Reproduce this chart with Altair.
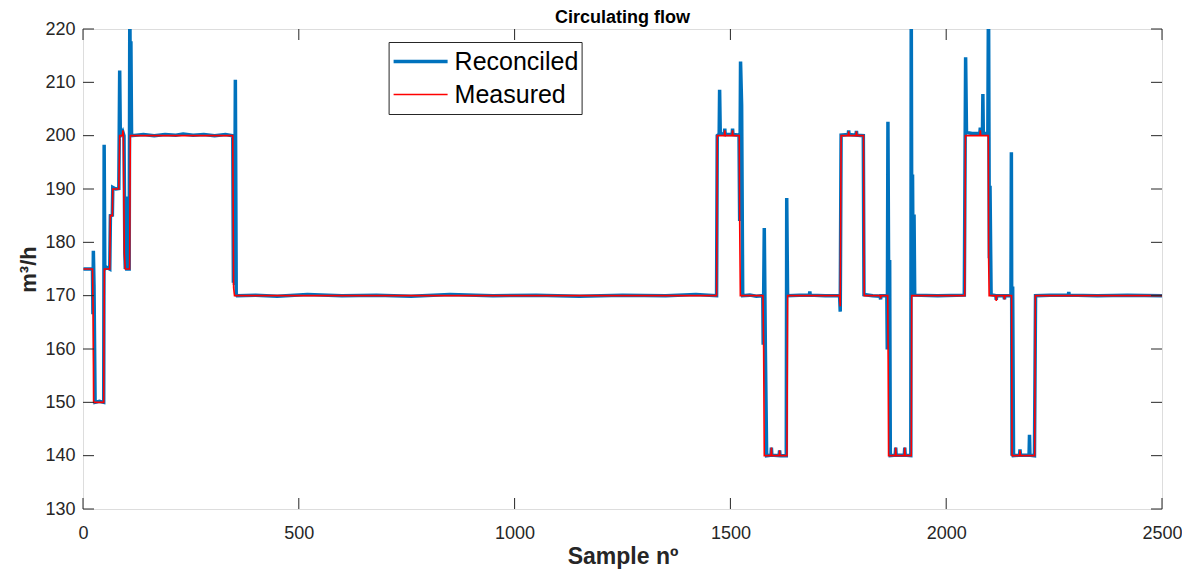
import altair as alt
import pandas as pd

# Reconciled series (sample, m3/h)
rec_x = [1, 22, 23, 24, 25.5, 28, 38, 48, 49, 50.5, 55, 62, 63.5, 68, 69, 76, 83, 85, 86.5, 92, 95, 97, 98, 100, 101.5, 107,
         108.5, 110, 111, 112.5, 140, 165, 190, 215, 232, 255, 280, 305, 330, 347, 348.5, 350, 351, 353, 355, 357,
         400, 450, 520, 600, 680, 760, 850, 950, 1050, 1150, 1250, 1350, 1420, 1468,
         1469.5, 1474, 1475, 1476.5, 1486, 1487, 1488, 1504, 1505, 1506, 1520, 1521.5, 1523.5, 1526, 1528.5, 1545, 1560,
         1575, 1576, 1578.5, 1581, 1584, 1594, 1595, 1596, 1613, 1614, 1615, 1629.5, 1630.5, 1632.5, 1660, 1683, 1684,
         1685, 1720, 1753, 1754.5, 1756.5, 1773, 1774, 1775, 1791, 1792, 1793, 1808, 1809.5, 1830, 1847, 1848, 1849,
         1862.5, 1863.5, 1865, 1867, 1869, 1870.5, 1882, 1883, 1884, 1903, 1904, 1905, 1918, 1919, 1920.5, 1922, 1923.5,
         1925.5, 1927, 1980, 2042, 2044, 2045, 2047, 2060, 2078, 2079, 2080, 2084, 2085, 2086, 2096.5, 2098, 2100, 2101.5,
         2104, 2115, 2116, 2117, 2134, 2135, 2136, 2150, 2151, 2152.5, 2154, 2156, 2170, 2171, 2172, 2192, 2193, 2194,
         2204.5, 2207, 2240, 2283, 2284, 2285, 2350, 2420, 2500]
rec_y = [175, 175, 166.5, 178.4, 172, 150, 150.2, 150, 198.3, 175, 175.3, 175, 185, 185.1, 190.3, 190, 190.1, 212.2, 200,
         200.8, 200, 178, 175, 188.6, 175, 175,
         226, 200, 217.7, 200, 200.2, 200, 200.2, 200.1, 200.3, 200.1, 200.2, 200, 200.2, 200, 172.4, 199, 172, 210.5,
         170.3, 170,
         170.1, 169.9, 170.2, 170, 170.1, 169.9, 170.2, 170, 170.1, 169.9, 170.1, 170, 170.2, 170,
         200, 200.3, 208.6, 200.4, 200.2, 201.3, 200.2, 200.2, 201.3, 200.2, 200.1, 184, 213.9, 205.7, 170, 170.1, 169.9,
         170, 160.8, 182.7, 160, 140, 140.1, 141.5, 140.1, 140, 141, 140, 140, 188.3, 170, 170.1, 170.1, 170.8,
         170.1, 170, 170, 167, 200.1, 200.2, 201, 200.2, 200.1, 200.9, 200.1, 200, 170.2, 170, 169.9, 169.3, 170,
         170, 159.9, 202.6, 166, 176.7, 140, 140.1, 141.5, 140.1, 140.1, 141.5, 140.1, 140, 226, 170, 192.7, 170,
         185.2, 170.1, 170, 170.1, 200.2, 214.7, 200.6, 200.4, 200.4, 201.5, 200.4, 200.4, 207.8, 200.4, 200.4, 228, 177,
         190.6, 170.2, 170, 169.2, 170, 170, 169.3, 170, 170, 196.9, 140, 171.7, 140, 140.1, 141.2, 140.1, 140.1, 143.9,
         140.1, 140, 170, 170.1, 170.1, 170.7, 170.1, 170, 170.1, 170]

# Measured series
meas_x = [1, 22, 23.5, 24.6, 48, 49.5, 62, 63.3, 68, 69, 83, 85, 91.5, 92.5, 93.5, 95.7, 98, 108, 109.6, 347, 349, 351,
          1468, 1469.5, 1486, 1487, 1488, 1504, 1505, 1506, 1520.5, 1521.5, 1523, 1545, 1575.5, 1577, 1578.5, 1594, 1595,
          1596, 1613, 1614, 1615, 1631, 1632.5, 1753, 1754.5, 1756.5, 1773, 1774, 1775, 1791, 1792, 1793, 1808.5, 1810,
          1847, 1848, 1849, 1864.5, 1865.5, 1866.5, 1882, 1883, 1884, 1903, 1904, 1905, 1919, 1920, 2043, 2044.5, 2078,
          2079, 2080, 2097.5, 2098.3, 2099.5, 2115, 2116, 2117, 2134, 2135, 2136, 2151.5, 2152.5, 2170, 2171, 2172,
          2205, 2206.5, 2500]
meas_y = [175, 175, 167, 150, 150, 175, 175, 185, 185, 190, 190, 200, 200, 201, 200, 178, 175, 175, 200, 200, 171.5, 170,
          170, 200, 200, 201, 200, 200, 201, 200, 200, 184, 170, 170, 170, 160, 140, 140, 141.5,
          140, 140, 141, 140, 140, 170, 170, 168, 200, 200, 200.8, 200, 200, 200.8, 200, 200, 170,
          170, 169.5, 170, 170, 158, 140, 140, 141.5, 140, 140, 141.5, 140, 140, 170, 170, 200, 200,
          201, 200, 200, 177, 170, 170, 169, 170, 170, 169.3, 170, 170, 140, 140, 141, 140,
          140, 170, 170]

series_names = ["Reconciled", "Measured"]
series_colors = ["#0072BD", "#FF0000"]
series_widths = [3.5, 1.6]

x_ticks = [0, 500, 1000, 1500, 2000, 2500]
y_ticks = [130, 140, 150, 160, 170, 180, 190, 200, 210, 220]

W, H = 1079, 480
INK = "#262626"
FONT = "Liberation Sans"

rec = pd.DataFrame({"sample": rec_x, "flow": rec_y, "series": series_names[0], "k": range(len(rec_x))})
meas = pd.DataFrame({"sample": meas_x, "flow": meas_y, "series": series_names[1], "k": range(len(meas_x))})

xscale = alt.Scale(domain=[0, 2500], nice=False, zero=False)
yscale = alt.Scale(domain=[130, 220], nice=False, zero=False)

xaxis = alt.Axis(values=x_ticks, format="d", labelFontSize=18, labelColor=INK, labelFont=FONT,
                 ticks=False, tickSize=0, domain=False, grid=False, labelPadding=15, labelFlush=False,
                 title="Sample nº", titleFont=FONT, titleFontSize=23, titleFontWeight="bold", titleColor=INK,
                 titleX=W / 2, titleY=54, titleBaseline="alphabetic", titleAlign="center")
yaxis = alt.Axis(values=y_ticks, format="d", labelFontSize=18, labelColor=INK, labelFont=FONT,
                 ticks=False, tickSize=0, domain=False, grid=False, labelPadding=8, labelFlush=False,
                 title="m³/h", titleFont=FONT, titleFontSize=22, titleFontWeight="bold", titleColor=INK,
                 titleX=-48, titleY=H / 2, titleAngle=-90, titleBaseline="alphabetic", titleAlign="center")

legend = alt.Legend(title=None, orient="none", legendX=305.6, legendY=13, symbolType="stroke",
                    symbolSize=2916, labelFontSize=25, labelFont=FONT, labelColor="black",
                    strokeColor=INK, fillColor="white", padding=3, rowPadding=0, labelOffset=5,
                    clipHeight=33)

color = alt.Color("series:N", scale=alt.Scale(domain=series_names, range=series_colors), legend=legend)
swidth = alt.StrokeWidth("series:N", scale=alt.Scale(domain=series_names, range=series_widths), legend=legend)

def line_layer(df):
    return alt.Chart(df).mark_line(clip=True).encode(
        x=alt.X("sample:Q", scale=xscale, axis=xaxis),
        y=alt.Y("flow:Q", scale=yscale, axis=yaxis),
        order=alt.Order("k:Q"),
        color=color,
        strokeWidth=swidth,
    )

rec_layer = line_layer(rec)
meas_layer = line_layer(meas)

xt = pd.DataFrame({"sample": x_ticks})
yt = pd.DataFrame({"flow": y_ticks})
TL = 11
bottom_t = alt.Chart(xt).mark_rule(color=INK, strokeWidth=1).encode(
    x=alt.X("sample:Q", scale=xscale, axis=xaxis), y=alt.value(H), y2=alt.value(H - TL))
top_t = alt.Chart(xt).mark_rule(color=INK, strokeWidth=1).encode(
    x=alt.X("sample:Q", scale=xscale, axis=xaxis), y=alt.value(0), y2=alt.value(TL))
left_t = alt.Chart(yt).mark_rule(color=INK, strokeWidth=1).encode(
    y=alt.Y("flow:Q", scale=yscale, axis=yaxis), x=alt.value(0), x2=alt.value(TL))
right_t = alt.Chart(yt).mark_rule(color=INK, strokeWidth=1).encode(
    y=alt.Y("flow:Q", scale=yscale, axis=yaxis), x=alt.value(W), x2=alt.value(W - TL))

chart = alt.layer(rec_layer, meas_layer, bottom_t, top_t, left_t, right_t).properties(
    width=W, height=H,
    title=alt.Title("Circulating flow", font=FONT, fontSize=18, fontWeight="bold", color="black",
                    anchor="middle", offset=3, dy=10),
    autosize=alt.AutoSizeParams(type="none"),
    padding={"left": 75, "top": 21, "right": 20, "bottom": 60},
).configure_view(stroke=INK, strokeWidth=1).configure(background="white")

chart.save("out.html", embed_options={"renderer": "svg", "actions": False})
